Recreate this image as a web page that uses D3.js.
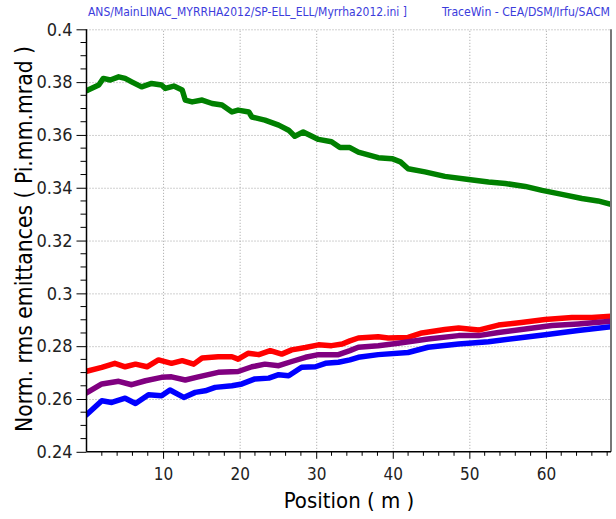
<!DOCTYPE html>
<html>
<head>
<meta charset="utf-8">
<script src="https://cdn.jsdelivr.net/npm/d3@7"></script>
<style>
  body { margin: 0; background: #fff; }
  svg { display: block; font-family: Tahoma, "DejaVu Sans Condensed", "DejaVu Sans", sans-serif; }
</style>
</head>
<body>
<svg id="chart"></svg>
<script>
const width = 616;
const height = 519;

// data: [position (m), emittance (Pi.mm.mrad)]
const greenLine = [[0,0.3768],[0.2,0.3770],[1.6,0.3789],[2.2,0.3814],[3.1,0.3808],[4.2,0.3820],[5.05,0.3814],[5.9,0.3801],[7.2,0.3782],[8.5,0.3795],[9.8,0.3789],[10.3,0.3776],[11.4,0.3785],[12.5,0.3770],[12.9,0.3732],[13.8,0.3725],[15.1,0.3732],[16.4,0.3719],[17.7,0.3713],[19.0,0.3687],[19.8,0.3694],[21.2,0.3687],[21.6,0.3668],[23.3,0.3656],[25.1,0.3637],[26.4,0.3618],[27.2,0.3595],[28.3,0.3611],[30.3,0.3583],[32.0,0.3574],[33.1,0.3552],[34.4,0.3552],[35.5,0.3535],[38.1,0.3514],[39.9,0.3510],[41.0,0.3498],[42.0,0.3472],[44.2,0.3460],[46.8,0.3443],[49.9,0.3431],[52.5,0.3422],[54.7,0.3416],[57.3,0.3405],[59.5,0.3390],[62.1,0.3375],[64.7,0.3359],[66.8,0.3350],[68.5,0.3337]];
const redLine = [[0,0.2705],[2.0,0.2720],[3.7,0.2735],[5.05,0.2722],[6.4,0.2732],[7.9,0.2722],[9.4,0.2748],[11.1,0.2735],[12.5,0.2745],[14.0,0.2732],[15.1,0.2755],[17.2,0.2760],[19.0,0.2760],[19.8,0.2751],[21.1,0.2773],[22.5,0.2768],[24.0,0.2783],[25.5,0.2770],[26.8,0.2786],[28.6,0.2795],[30.3,0.2805],[32.0,0.2802],[33.4,0.2808],[34.4,0.2820],[35.5,0.2831],[38.1,0.2836],[39.4,0.2831],[42.0,0.2833],[43.8,0.2850],[46.8,0.2863],[48.6,0.2869],[51.2,0.2861],[53.8,0.2880],[56.8,0.2890],[59.9,0.2901],[63.4,0.2909],[66.0,0.2909],[68.5,0.2913]];
const purpleLine = [[0,0.2623],[2.0,0.2657],[4.2,0.2667],[5.9,0.2654],[7.7,0.2669],[9.8,0.2682],[11.1,0.2684],[12.9,0.2672],[14.6,0.2684],[17.2,0.2701],[19.8,0.2704],[21.6,0.2722],[23.3,0.2732],[25.1,0.2726],[26.8,0.2742],[28.6,0.2758],[30.3,0.2768],[32.9,0.2768],[34.4,0.2783],[35.5,0.2796],[38.1,0.2802],[40.7,0.2811],[44.6,0.2827],[48.6,0.2840],[51.2,0.2840],[53.8,0.2852],[57.3,0.2865],[60.8,0.2878],[64.2,0.2884],[68.5,0.2894]];
const blueLine = [[0,0.2540],[2.0,0.2593],[3.3,0.2587],[5.05,0.2603],[6.4,0.2583],[8.1,0.2616],[9.8,0.2612],[10.9,0.2634],[12.7,0.2606],[14.2,0.2625],[15.5,0.2631],[16.8,0.2644],[19.0,0.2650],[20.3,0.2657],[22.0,0.2676],[23.8,0.2679],[25.1,0.2692],[26.4,0.2688],[28.1,0.2720],[29.9,0.2722],[31.2,0.2735],[32.9,0.2739],[34.4,0.2748],[35.5,0.2758],[38.1,0.2768],[42.0,0.2776],[44.6,0.2796],[48.6,0.2808],[52.5,0.2817],[56.4,0.2831],[59.9,0.2843],[64.2,0.2859],[68.5,0.2874]];

const xTicks = [10, 20, 30, 40, 50, 60];
const yTicks = [0.24, 0.26, 0.28, 0.3, 0.32, 0.34, 0.36, 0.38, 0.4];
const yTickLabels = ["0.24", "0.26", "0.28", "0.3", "0.32", "0.34", "0.36", "0.38", "0.4"];

const titleLeft = "ANS/MainLINAC_MYRRHA2012/SP-ELL_ELL/Myrrha2012.ini ]";
const titleRight = "TraceWin - CEA/DSM/Irfu/SACM";

const margin = { top: 29.3, right: 5, bottom: 67.2, left: 86.5 };
const plotRight = width - margin.right;
const plotBottom = height - margin.bottom;

const svg = d3.select("#chart").attr("width", width).attr("height", height);

// scales
const x = d3.scaleLinear().domain([0, 68.5]).range([margin.left, plotRight]);
const y = d3.scaleLinear().domain([0.24, 0.4]).range([plotBottom, margin.top]);

// header texts
svg.append("text")
  .attr("x", 88).attr("y", 15.5)
  .attr("font-size", "12px").attr("fill", "#3c3cdc")
  .attr("textLength", 319).attr("lengthAdjust", "spacingAndGlyphs")
  .text(titleLeft);
svg.append("text")
  .attr("x", 442).attr("y", 15.5)
  .attr("font-size", "12px").attr("fill", "#3c3cdc")
  .attr("textLength", 168).attr("lengthAdjust", "spacingAndGlyphs")
  .text(titleRight);

// grid (dotted) - built with the axis generators so the lines sit on the scale ticks
const gridColor = "#a0a0a0";
const xGrid = svg.append("g")
  .attr("transform", `translate(0, ${plotBottom})`)
  .call(d3.axisBottom(x).tickValues(xTicks).tickSize(-(plotBottom - margin.top)).tickFormat(""));
const yGrid = svg.append("g")
  .attr("transform", `translate(${margin.left}, 0)`)
  .call(d3.axisLeft(y).tickValues(yTicks.slice(1)).tickSize(-(plotRight - margin.left)).tickFormat(""));
[xGrid, yGrid].forEach(g => {
  g.select(".domain").remove();
  g.selectAll("line")
    .attr("stroke", gridColor)
    .attr("stroke-width", 1)
    .attr("stroke-dasharray", "1,2");
});

// curves
svg.append("clipPath").attr("id", "plotclip").append("rect")
  .attr("x", margin.left).attr("y", margin.top)
  .attr("width", plotRight - margin.left).attr("height", plotBottom - margin.top);

const line = d3.line().x(d => x(d[0])).y(d => y(d[1]));
const series = [
  { data: greenLine, color: "#008000" },
  { data: redLine, color: "#ff0000" },
  { data: purpleLine, color: "#800080" },
  { data: blueLine, color: "#0000ff" },
];
svg.append("g").attr("clip-path", "url(#plotclip)")
  .selectAll("path").data(series).join("path")
  .attr("d", d => line(d.data))
  .attr("fill", "none")
  .attr("stroke", d => d.color)
  .attr("stroke-width", 5.5)
  .attr("stroke-linejoin", "round")
  .attr("stroke-linecap", "round");

// right frame
svg.append("line")
  .attr("x1", plotRight).attr("x2", plotRight)
  .attr("y1", margin.top).attr("y2", plotBottom)
  .attr("stroke", "#777").attr("stroke-width", 2);

// y axis
const yAxis = d3.axisLeft(y).tickValues(yTicks).tickSize(10).tickPadding(4)
  .tickFormat((d, i) => yTickLabels[i]);
const gy = svg.append("g")
  .attr("transform", `translate(${margin.left}, 0)`)
  .call(yAxis);
gy.selectAll("text").attr("font-size", "18px").attr("fill", "#222")
  .attr("font-family", "Tahoma, 'DejaVu Sans Condensed', 'DejaVu Sans', sans-serif");
gy.selectAll("line, path").attr("stroke", "#000");
gy.select(".domain").attr("d", `M0,${margin.top}V${plotBottom}`).attr("stroke-width", 1.5);

// y minor ticks
const yMinor = d3.range(0.245, 0.4, 0.005).filter(v => Math.abs(v * 50 - Math.round(v * 50)) > 1e-6);
svg.append("g").selectAll("line").data(yMinor).join("line")
  .attr("x1", margin.left - 6).attr("x2", margin.left)
  .attr("y1", d => y(d)).attr("y2", d => y(d))
  .attr("stroke", "#000");

// x axis
const xAxis = d3.axisBottom(x).tickValues(xTicks).tickSize(7).tickPadding(9);
const gx = svg.append("g")
  .attr("transform", `translate(0, ${plotBottom})`)
  .call(xAxis);
gx.selectAll("text").attr("font-size", "17px").attr("fill", "#222")
  .attr("font-family", "Tahoma, 'DejaVu Sans Condensed', 'DejaVu Sans', sans-serif");
gx.selectAll("line, path").attr("stroke", "#000");
gx.select(".domain").attr("d", `M${margin.left},0H${plotRight}`).attr("stroke-width", 1.5);

// x minor ticks
const xMinor = d3.range(2, 69, 2).filter(v => v % 10 !== 0);
svg.append("g").selectAll("line").data(xMinor).join("line")
  .attr("x1", d => x(d)).attr("x2", d => x(d))
  .attr("y1", plotBottom).attr("y2", plotBottom + 4)
  .attr("stroke", "#000");

// axis titles
svg.append("text")
  .attr("x", 349).attr("y", 508)
  .attr("font-size", "22px").attr("text-anchor", "middle")
  .text("Position ( m )");
svg.append("text")
  .attr("transform", `translate(32, 239) rotate(-90)`)
  .attr("font-size", "23px").attr("text-anchor", "middle")
  .attr("textLength", 386).attr("lengthAdjust", "spacingAndGlyphs")
  .text("Norm. rms emittances ( Pi.mm.mrad )");
</script>
</body>
</html>
